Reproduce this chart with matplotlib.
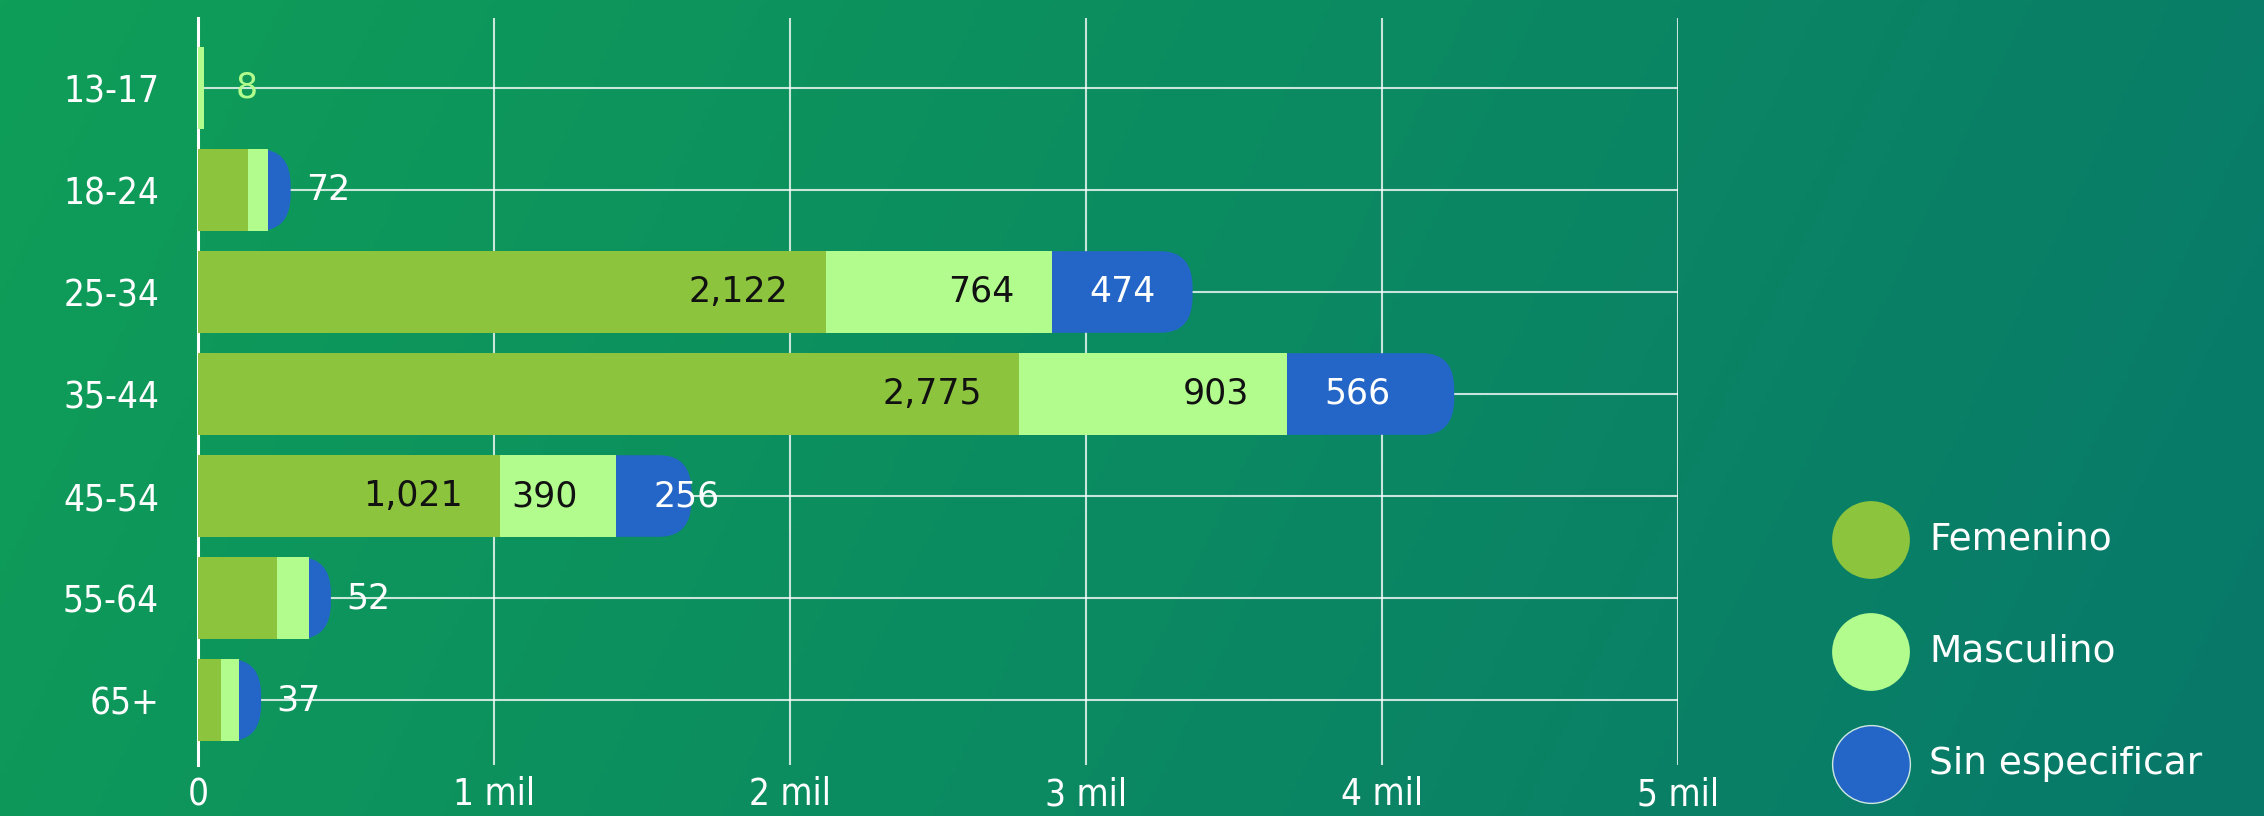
import numpy as np
import matplotlib
matplotlib.use('Agg')
import matplotlib.pyplot as plt
from matplotlib.patches import FancyBboxPatch

# datos
edades = ['13-17', '18-24', '25-34', '35-44', '45-54', '55-64', '65+']
femenino = [0, 168, 2122, 2775, 1021, 267, 78]
masculino = [8, 70, 764, 903, 390, 107, 60]
sin_especificar = [0, 72, 474, 566, 256, 52, 37]
series = ['Femenino', 'Masculino', 'Sin especificar']
colores = ['#8dc43d', '#b2fc8e', '#2466c8']
x_ticks = [0, 1000, 2000, 3000, 4000, 5000]
x_tick_labels = ['0', '1 mil', '2 mil', '3 mil', '4 mil', '5 mil']

W, H = 2264, 816
fig = plt.figure(figsize=(W / 100, H / 100), dpi=100)

# fondo degradado
bg = fig.add_axes([0, 0, 1, 1], zorder=-1)
GX, GY = np.meshgrid(np.linspace(0, 1, 400), np.linspace(0, 1, 150))
t = np.clip(0.85 * GX + 0.15 * GY, 0, 1)[..., None]
c0 = np.array([15, 158, 88]) / 255
c1 = np.array([8, 120, 106]) / 255
bg.imshow(c0 * (1 - t) + c1 * t, extent=[0, W, H, 0], aspect='auto')
bg.set_xlim(0, W)
bg.set_ylim(H, 0)
bg.axis('off')

# ejes principales
ax_l, ax_r, ax_t, ax_b = 198, 1678, 18, 765
ax = fig.add_axes([ax_l / W, 1 - ax_b / H, (ax_r - ax_l) / W, (ax_b - ax_t) / H])
ax.set_facecolor('none')
ylim = (6.637, -0.686)
ax.set_xlim(0, 5000)
ax.set_ylim(*ylim)

y = np.arange(len(edades))
h = 0.8
fem = np.array(femenino)
mas = np.array(masculino)
sin = np.array(sin_especificar)
min_w = 20   # ancho minimo visible
cap_w = 75   # ancho minimo del remate azul
fem_d = np.where(fem > 0, np.maximum(fem, min_w), 0)
mas_d = np.where(mas > 0, np.maximum(mas, min_w), 0)
sin_d = np.where(sin > 0, np.maximum(sin, cap_w), 0)

upx_x = 5000 / (ax_r - ax_l)
upx_y = (ylim[0] - ylim[1]) / (ax_b - ax_t)
rx = 32 * upx_x
ry = 36 * upx_y

# azul con esquinas redondeadas (por debajo de los otros dos)
for i in range(len(edades)):
    if sin_d[i] == 0:
        continue
    width = fem_d[i] + mas_d[i] + sin_d[i]
    r = min(rx, width / 2)
    p = FancyBboxPatch((0, y[i] - h / 2), width, h,
                       boxstyle='round,pad=0,rounding_size=%f' % r,
                       mutation_aspect=ry / rx, fc=colores[2], ec='none', zorder=2)
    ax.add_patch(p)

ax.barh(y, fem_d, height=h, color=colores[0], zorder=3)
ax.barh(y, mas_d, left=fem_d, height=h, color=colores[1], zorder=3)

# etiquetas de valores
pad = 27
for i in range(len(edades)):
    segs = [(fem[i], 0, fem_d[i], colores[1]), (mas[i], fem_d[i], mas_d[i], colores[1]),
            (sin[i], fem_d[i] + mas_d[i], sin_d[i], 'white')]
    total = fem[i] + mas[i] + sin[i]
    if total < 500:
        v, start, w, col = [s for s in segs if s[0] > 0][-1]
        ax.annotate(f'{v:,}', (start, y[i]), xytext=(pad, 0), textcoords='offset points',
                    ha='left', va='center', fontsize=25, color=col, zorder=4)
        continue
    for k, (v, start, w, col) in enumerate(segs):
        if k < 2:
            ax.annotate(f'{v:,}', (start + w, y[i]), xytext=(-pad, 0), textcoords='offset points',
                        ha='right', va='center', fontsize=25, color='#111111', zorder=4)
        else:
            ax.annotate(f'{v:,}', (start, y[i]), xytext=(pad, 0), textcoords='offset points',
                        ha='left', va='center', fontsize=25, color='white', zorder=4)

# ejes, rejilla
ax.set_yticks(y)
ax.set_yticklabels(edades)
ax.set_xticks(x_ticks)
ax.set_xticklabels(x_tick_labels)
ax.set_axisbelow(True)
ax.grid(True, color='white', alpha=0.78, lw=1.5)
for s in ['top', 'right', 'bottom']:
    ax.spines[s].set_visible(False)
ax.spines['left'].set_color('white')
ax.spines['left'].set_linewidth(2.2)
ax.tick_params(length=0, colors='white', labelsize=26.5)
ax.tick_params(axis='y', pad=28)
ax.tick_params(axis='x', pad=8)
for lab in ax.get_xticklabels() + ax.get_yticklabels():
    lab.set_fontstretch('condensed')

# leyenda
for k, name in enumerate(series):
    yy = 540 + k * 112
    bg.scatter([1871], [yy], s=56 ** 2, color=colores[k],
               edgecolors='#cde8e0' if k == 2 else 'none', linewidths=1, zorder=2)
    bg.text(1929, yy, name, ha='left', va='center', fontsize=27, color='white')

fig.savefig('out.png', dpi=100)
